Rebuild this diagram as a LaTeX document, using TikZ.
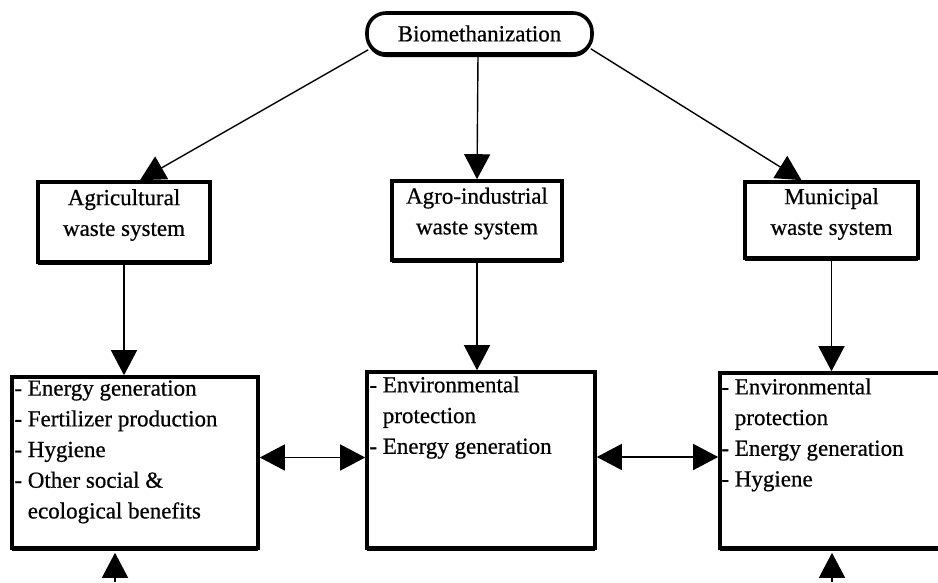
\documentclass[tikz,border=0pt]{standalone}
\usepackage{fontspec}
\setmainfont{Liberation Serif}[FakeBold=0.6]
\usetikzlibrary{arrows.meta,shadows}
\newcommand{\dgfont}{\fontsize{23}{30.7}\selectfont}
\begin{document}
\begin{tikzpicture}[x=1pt,y=-1pt,
  box/.style={draw, line width=3.6pt, fill=white, inner sep=0pt,
    drop shadow={shadow xshift=0pt, shadow yshift=-3pt, opacity=1, fill=black}},
  txtl/.style={font=\dgfont, align=left, inner sep=0pt, anchor=north west},
  txtc/.style={font=\dgfont, align=center, inner sep=0pt},
  arr/.style={line width=1.4pt, -{Triangle[length=25pt,width=26pt]}},
  dbl/.style={line width=1.4pt, {Triangle[length=25pt,width=26pt]}-{Triangle[length=25pt,width=26pt]}}
]
\useasboundingbox (0,0) rectangle (938,582);

% top node
\node[box, rounded corners=19pt, minimum width=225pt, minimum height=41pt, font=\dgfont] (bio) at (479.5,33.5) {Biomethanization};

% waste system boxes
\node[box, minimum width=172pt, minimum height=80pt] (agr) at (124,222) {};
\node[txtc] (agrt) at ([yshift=7pt]agr.center) {Agricultural\\waste system};
\node[box, minimum width=170pt, minimum height=79pt] (agro) at (477,220.5) {};
\node[txtc] (agrot) at ([yshift=7pt]agro.center) {Agro-industrial\\waste system};
\node[box, minimum width=173pt, minimum height=76pt] (mun) at (831.5,220) {};
\node[txtc] (munt) at ([yshift=6pt]mun.center) {Municipal\\waste system};

% benefit boxes
\node[box, minimum width=246pt, minimum height=171pt] (bl) at (135,462.5) {};
\node[txtl] (blt) at ([xshift=4pt,yshift=-5pt]bl.north west)
  {- Energy generation\\- Fertilizer production\\- Hygiene\\- Other social \&\\\hphantom{- }ecological benefits};
\node[box, minimum width=228pt, minimum height=176pt] (mid) at (481,460) {};
\node[txtl] (midt) at ([xshift=4pt,yshift=-6pt]mid.north west)
  {- Environmental\\\hphantom{- }protection\\- Energy generation};
\node[box, minimum width=228pt, minimum height=175pt] (rb) at (834,460.5) {};
\node[txtl] (rbt) at ([xshift=3pt,yshift=-7pt]rb.north west)
  {- Environmental\\\hphantom{- }protection\\- Energy generation\\- Hygiene};

% connectors from top
\draw[arr] ([xshift=3pt,yshift=6pt]bio.south west) -- ([xshift=16pt]agr.north);
\draw[arr] ([xshift=-1.5pt]bio.south) -- (agro.north);
\draw[arr] ([xshift=-3pt,yshift=7pt]bio.south east) -- ([xshift=-30pt]mun.north);

% down connectors
\draw[arr] (agr.south) -- (agr.south |- bl.north);
\draw[arr] (agro.south) -- (agro.south |- mid.north);
\draw[arr] (mun.south) -- (mun.south |- rb.north);

% horizontal double arrows
\draw[dbl] ([yshift=5pt]bl.east) -- ([yshift=5pt]bl.east -| mid.west);
\draw[dbl] ([yshift=3pt]mid.east) -- ([yshift=3pt]mid.east -| rb.west);

% arrows from below
\coordinate (b1) at (115,582);
\coordinate (b2) at (832,582);
\draw[arr] (b1) -- ([yshift=-3pt]b1 |- bl.south);
\draw[arr] (b2) -- ([yshift=-3pt]b2 |- rb.south);
\end{tikzpicture}
\end{document}
